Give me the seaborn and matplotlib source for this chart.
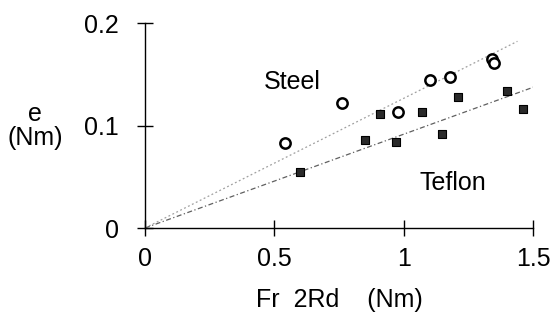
import numpy as np
import pandas as pd
import matplotlib
matplotlib.use('Agg')
import matplotlib.pyplot as plt
import seaborn as sns

# data
steel_x = [0.54, 0.76, 0.98, 1.10, 1.18, 1.34, 1.35]
steel_y = [0.083, 0.122, 0.113, 0.144, 0.147, 0.165, 0.161]
teflon_x = [0.60, 0.85, 0.91, 0.97, 1.07, 1.15, 1.21, 1.40, 1.46]
teflon_y = [0.055, 0.086, 0.111, 0.084, 0.113, 0.092, 0.128, 0.134, 0.116]
steel_slope = 0.1265
teflon_slope = 0.0915
steel_fit_end = 1.44
teflon_fit_end = 1.51

xticks = [0, 0.5, 1, 1.5]
xticklabels = ['0', '0.5', '1', '1.5']
yticks = [0, 0.1, 0.2]
yticklabels = ['0', '0.1', '0.2']

steel = pd.DataFrame({'x': steel_x, 'y': steel_y})
teflon = pd.DataFrame({'x': teflon_x, 'y': teflon_y})
steel_fit = pd.DataFrame({'x': [0, steel_fit_end]})
steel_fit['y'] = steel_fit['x'] * steel_slope
teflon_fit = pd.DataFrame({'x': [0, teflon_fit_end]})
teflon_fit['y'] = teflon_fit['x'] * teflon_slope

sns.set_style('white')
plt.rcParams['font.family'] = ['Liberation Sans', 'DejaVu Sans']
plt.rcParams['text.color'] = 'black'
fs = 18

fig = plt.figure(figsize=(5.56, 3.2), dpi=100)
ax = fig.add_axes([0.2608, 0.2875, 0.6978, 0.6406])

sns.lineplot(data=steel_fit, x='x', y='y', ax=ax, color='#a0a0a0',
             linestyle=(0, (1.5, 2)), linewidth=0.9)
sns.lineplot(data=teflon_fit, x='x', y='y', ax=ax, color='#606060',
             linestyle=(0, (4, 2, 1, 2)), linewidth=0.9)

sns.scatterplot(data=steel, x='x', y='y', ax=ax, marker='o', s=55,
                facecolor='white', edgecolor='black', linewidth=1.8, zorder=3)
sns.scatterplot(data=teflon, x='x', y='y', ax=ax, marker='s', s=30,
                color='#2a2a2a', edgecolor='black', linewidth=0.8, zorder=3)

ax.text(0.57, 0.142, 'Steel', fontsize=fs, ha='center', va='center')
ax.text(1.19, 0.044, 'Teflon', fontsize=fs, ha='center', va='center')

ax.set_xlim(0, 1.5)
ax.set_ylim(0, 0.2)
ax.set_xticks(xticks)
ax.set_xticklabels(xticklabels)
ax.set_yticks(yticks)
ax.set_yticklabels(yticklabels)
ax.tick_params(axis='both', direction='inout', length=12, width=1,
               color='black', labelcolor='black', labelsize=fs,
               bottom=True, left=True)
ax.tick_params(axis='x', pad=8)
ax.tick_params(axis='y', pad=13)

for side in ['top', 'right']:
    ax.spines[side].set_visible(False)
for side in ['left', 'bottom']:
    ax.spines[side].set_color('black')
    ax.spines[side].set_linewidth(1)

ax.set_xlabel('Fr  2Rd    (Nm)', fontsize=fs, labelpad=12, color='black')
ax.set_ylabel('')
fig.text(35 / 556, 1 - 126 / 320, 'e\n(Nm)', fontsize=fs,
         ha='center', va='center', linespacing=1.0)

fig.savefig('out.png', dpi=100)
